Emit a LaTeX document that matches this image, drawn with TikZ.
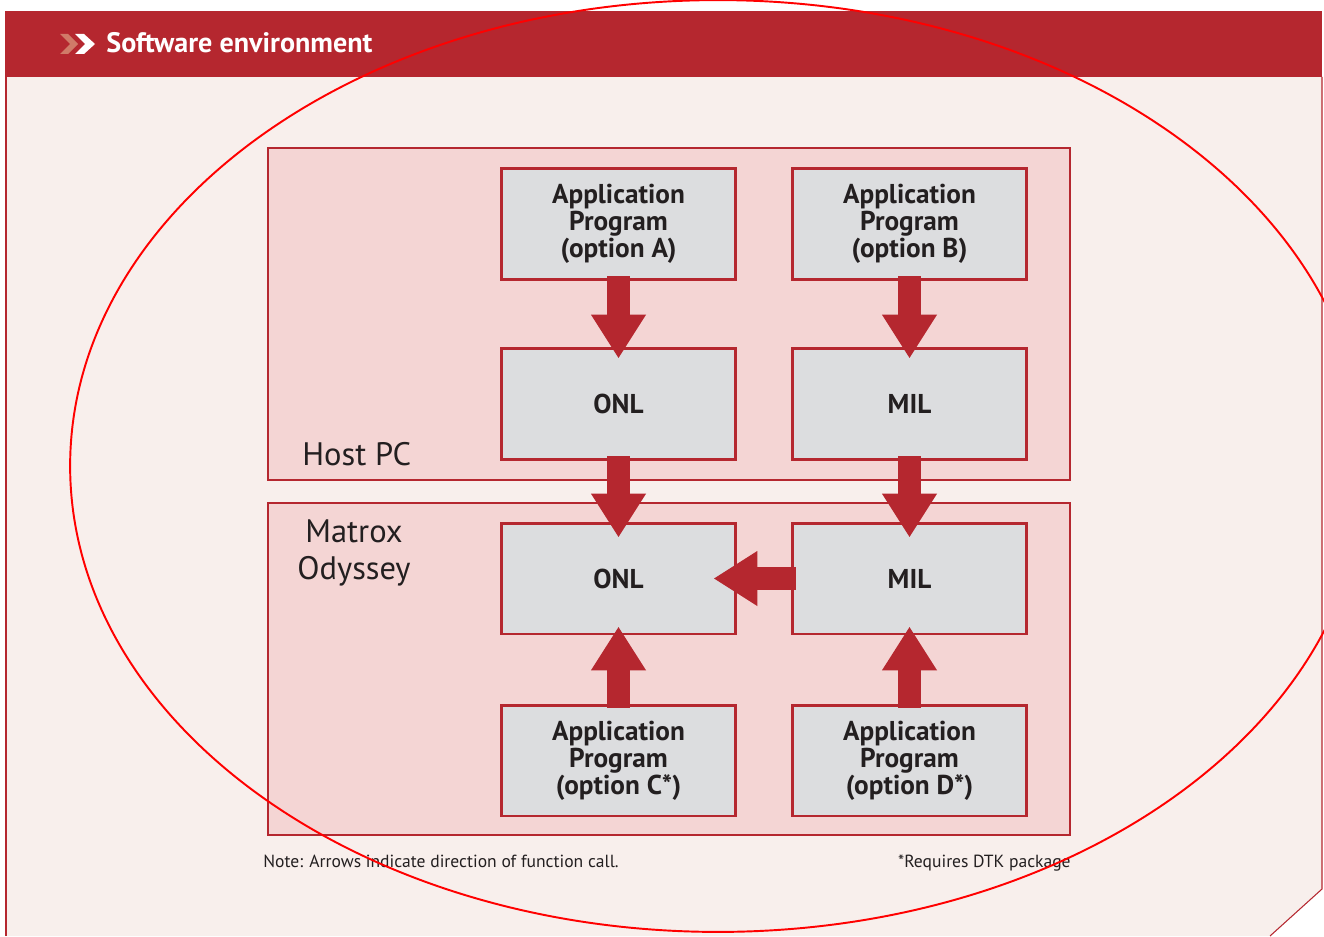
\documentclass[tikz,border=0pt]{standalone}
\usepackage{fontspec}
\setmainfont{PT Sans}
\usetikzlibrary{arrows.meta}
\definecolor{mxred}{HTML}{B5272F}
\definecolor{chev}{HTML}{D07A68}
\definecolor{panel}{HTML}{F8EFEC}
\definecolor{zonepink}{HTML}{F4D5D4}
\definecolor{boxgray}{HTML}{DCDDDF}
\definecolor{ink}{HTML}{231F20}
\begin{document}
\begin{tikzpicture}[x=0.02cm,y=-0.02cm,
  box/.style={draw=mxred,fill=boxgray,line width=1.7pt,minimum width=4.68cm,minimum height=2.22cm,
    inner sep=0pt,align=center,text=ink,font=\bfseries\fontsize{15.5}{15.4}\selectfont},
  zone/.style={draw=mxred,fill=zonepink,line width=1.2pt,minimum width=16.04cm,minimum height=6.64cm,inner sep=0pt},
  call/.style={draw=mxred,line width=0.46cm,-{Triangle[length=0.88cm,width=1.04cm]}},
  zonelabel/.style={text=ink,inner sep=0pt,align=center,font=\fontsize{18.5}{21}\selectfont},
  note/.style={text=ink,inner sep=0pt,font=\fontsize{10}{12}\selectfont}]
\useasboundingbox (0,0) rectangle (1324,936);
\fill[white] (0,0) rectangle (1324,936);
% the panel and its header
\fill[panel] (5,77) -- (1322,77) -- (1322,889) -- (1270,936) -- (5,936) -- cycle;
\draw[mxred,line width=0.6pt] (6,77) -- (6,936);
\draw[mxred,line width=0.6pt] (1322,77) -- (1322,889) -- (1270,936);
\fill[mxred] (5,11) rectangle (1322,77);
\fill[chev] (60,34) -- (68,34) -- (78,44) -- (68,54) -- (60,54) -- (70,44) -- cycle;
\fill[white] (75,34) -- (84,34) -- (95,44) -- (84,54) -- (75,54) -- (85,44) -- cycle;
\node[anchor=base west,inner sep=0pt,text=white,font=\bfseries\fontsize{16}{19}\selectfont] (title) at (106,53) {Software environment};
% the two zones
\node[zone] (host) at (669,314) {};
\node[zone] (odyssey) at (669,669) {};
\node[zonelabel,anchor=base west] (hostlbl) at (302,465) {Host PC};
\node[zonelabel,anchor=base] (odylbl) at (354,579) {Matrox\\Odyssey};
% the boxes
\node[box] (appA) at (618.5,224) {Application\\Program\\(option A)};
\node[box] (appB) at (909.5,224) {Application\\Program\\(option B)};
\node[box] (onlH) at (618.5,404) {ONL};
\node[box] (milH) at (909.5,404) {MIL};
\node[box] (onlO) at (618.5,578.5) {ONL};
\node[box] (milO) at (909.5,578.5) {MIL};
\node[box] (appC) at (618.5,760.5) {Application\\Program\\(option C*)};
\node[box] (appD) at (909.5,760.5) {Application\\Program\\(option D*)};
% the function calls
\draw[call] ([yshift=0.09cm]appA.south) -- ([yshift=-0.23cm]onlH.north);
\draw[call] ([yshift=0.09cm]appB.south) -- ([yshift=-0.23cm]milH.north);
\draw[call] ([yshift=0.09cm]onlH.south) -- ([yshift=-0.32cm]onlO.north);
\draw[call] ([yshift=0.09cm]milH.south) -- ([yshift=-0.32cm]milO.north);
\draw[call] ([yshift=-0.08cm]appC.north) -- ([yshift=0.18cm]onlO.south);
\draw[call] ([yshift=-0.08cm]appD.north) -- ([yshift=0.18cm]milO.south);
\draw[call] ([xshift=0.09cm]milO.west) -- ([xshift=-0.47cm]onlO.east);
% notes
\node[note,anchor=base west] (callnote) at (263,867) {Note: Arrows indicate direction of function call.};
\node[note,anchor=base east] (dtknote) at (1071,867) {*Requires DTK package};
% the red ring
\draw[red,line width=1.1pt] (718,466) ellipse [x radius=12.96cm,y radius=9.32cm];
\end{tikzpicture}
\end{document}
